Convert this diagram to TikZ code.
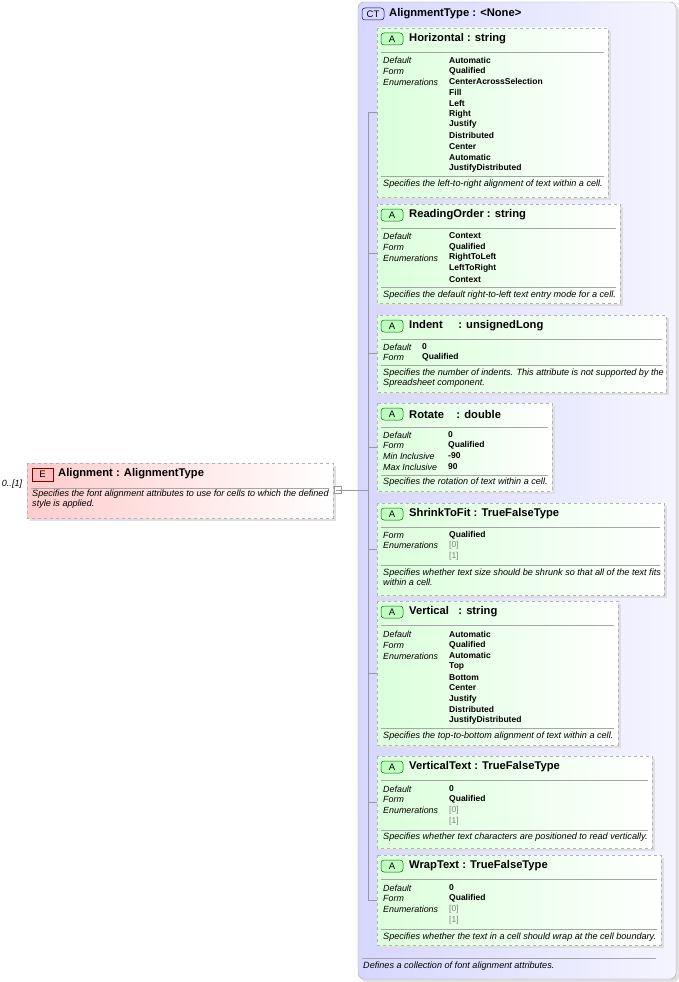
\documentclass[tikz,border=0pt]{standalone}
\usepackage{fontspec}
\setmainfont{Liberation Sans}
\begin{document}
\begin{tikzpicture}[x=1pt,y=-1pt,
  box/.style={draw=gray!60,dashed,line width=0.6pt},
  sep/.style={draw=gray!70,line width=0.5pt},
  lbl/.style={anchor=west,inner sep=0,font=\fontsize{8.9}{10}\selectfont\itshape},
  val/.style={anchor=west,inner sep=0,font=\fontsize{8.5}{10}\selectfont\bfseries},
  gval/.style={anchor=west,inner sep=0,font=\fontsize{8.5}{10}\selectfont,text=gray},
  hdr/.style={anchor=west,inner sep=0,font=\fontsize{11.2}{12}\selectfont\bfseries},
  desc/.style={anchor=north west,inner sep=0,font=\fontsize{9.1}{10}\selectfont\itshape,align=left},
  conn/.style={draw=gray!80,line width=0.5pt}]
\useasboundingbox (0,0) rectangle (679,982);
\newcommand\attrbox[6]{% name x1 y1 x2 y2 header
  \fill[gray!25] (#2+3,#3+3) rectangle (#4+3,#5+3);
  \path[box,left color=green!14,right color=white] (#2,#3) rectangle (#4,#5);
  \coordinate (#1) at (#2,{(#3+#5)/2});
  \path[draw=green!40!black,fill=green!25,rounded corners=3pt,line width=0.5pt] (#2+4,#3+5) rectangle (#2+26,#3+17);
  \node[inner sep=0,font=\fontsize{9.5}{10}\selectfont] at (#2+15,#3+11) {A};
  \node[hdr] at (#2+32,#3+11) {#6};
  \draw[sep] (#2+4,#3+24) -- (#4-4,#3+24);}
% CT box
\fill[gray!25,rounded corners=6pt] (361,5) rectangle (679,982);
\path[draw=gray!70,rounded corners=6pt,left color=blue!16,right color=blue!4] (358,2) rectangle (676,979);
\path[draw=blue!40!black,fill=blue!15,rounded corners=3pt,line width=0.5pt] (362,8) rectangle (384,20);
\node[inner sep=0,font=\fontsize{9.5}{10}\selectfont] at (373,14) {CT};
\node[hdr] (ct) at (389,14) {AlignmentType : <None>};
\draw[sep] (362,958) -- (656,958);
\node[desc] at (363,962) {Defines a collection of font alignment attributes.};
% Element
\fill[gray!25] (30,466) rectangle (336,521);
\path[box,left color=red!20,right color=white] (27,463) rectangle (333,518);
\path[draw=red!50!black,fill=red!25,line width=0.5pt] (32,468) rectangle (53,481);
\node[inner sep=0,font=\fontsize{9.5}{10}\selectfont] at (42.5,474.5) {E};
\node[hdr] at (58,474) {Alignment : AlignmentType};
\draw[sep] (31,488) -- (329,488);
\node[desc] at (32,490) {Specifies the font alignment attributes to use for cells to which the defined\\style is applied.};
\node[inner sep=0,font=\fontsize{9}{10}\selectfont\itshape] at (12,484) {0..[1]};
\node[draw=gray!80,fill=white,minimum size=7pt,inner sep=0,line width=0.5pt] (mn) at (338,490) {};
\draw[gray!80,line width=0.5pt] (335.5,490) -- (340.5,490);
% Horizontal
\attrbox{h}{377}{28}{608}{197}{Horizontal : string}
\node[lbl] at (383,60) {Default}; \node[lbl] at (383,71) {Form}; \node[lbl] at (383,82) {Enumerations};
\foreach \t [count=\i from 0] in {Automatic,Qualified,CenterAcrossSelection,Fill,Left,Right,Justify,Distributed,Center,Automatic,JustifyDistributed}
  \node[val] at (449,60+10.8*\i) {\t};
\draw[sep] (381,176) -- (604,176);
\node[desc] at (383,180) {Specifies the left-to-right alignment of text within a cell.};
% ReadingOrder
\attrbox{r}{377}{204}{620}{303}{ReadingOrder : string}
\node[lbl] at (383,236) {Default}; \node[lbl] at (383,247) {Form}; \node[lbl] at (383,258) {Enumerations};
\foreach \t [count=\i from 0] in {Context,Qualified,RightToLeft,LeftToRight,Context}
  \node[val] at (449,236+10.8*\i) {\t};
\draw[sep] (381,287) -- (616,287);
\node[desc] at (383,291) {Specifies the default right-to-left text entry mode for a cell.};
% Indent
\attrbox{i}{377}{315}{666}{392}{Indent\ \ \ \ \ : unsignedLong}
\node[lbl] at (383,347) {Default}; \node[lbl] at (383,357) {Form};
\node[val] at (422,347) {0}; \node[val] at (422,357) {Qualified};
\draw[sep] (381,365) -- (662,365);
\node[desc] at (383,369) {Specifies the number of indents. This attribute is not supported by the\\Spreadsheet component.};
% Rotate
\attrbox{ro}{377}{403}{552}{491}{Rotate\ \ \ \ : double}
\node[lbl] at (383,435) {Default}; \node[lbl] at (383,445) {Form}; \node[lbl] at (383,456) {Min Inclusive}; \node[lbl] at (383,467) {Max Inclusive};
\node[val] at (448,435) {0}; \node[val] at (448,445) {Qualified}; \node[val] at (448,456) {-90}; \node[val] at (448,467) {90};
\draw[sep] (381,475) -- (548,475);
\node[desc] at (383,478) {Specifies the rotation of text within a cell.};
% ShrinkToFit
\attrbox{s}{377}{503}{664}{595}{ShrinkToFit : TrueFalseType}
\node[lbl] at (383,535) {Form}; \node[lbl] at (383,545) {Enumerations};
\node[val] at (449,535) {Qualified}; \node[gval] at (449,545) {[0]}; \node[gval] at (449,556) {[1]};
\draw[sep] (381,565) -- (660,565);
\node[desc] at (383,569) {Specifies whether text size should be shrunk so that all of the text fits\\within a cell.};
% Vertical
\attrbox{v}{377}{601}{618}{745}{Vertical\ \ \ : string}
\node[lbl] at (383,634) {Default}; \node[lbl] at (383,645) {Form}; \node[lbl] at (383,656) {Enumerations};
\foreach \t [count=\i from 0] in {Automatic,Qualified,Automatic,Top,Bottom,Center,Justify,Distributed,JustifyDistributed}
  \node[val] at (449,634+10.8*\i) {\t};
\draw[sep] (381,728) -- (614,728);
\node[desc] at (383,732) {Specifies the top-to-bottom alignment of text within a cell.};
% VerticalText
\attrbox{vt}{377}{756}{652}{848}{VerticalText : TrueFalseType}
\node[lbl] at (383,789) {Default}; \node[lbl] at (383,799) {Form}; \node[lbl] at (383,810) {Enumerations};
\node[val] at (449,789) {0}; \node[val] at (449,799) {Qualified}; \node[gval] at (449,810) {[0]}; \node[gval] at (449,821) {[1]};
\draw[sep] (381,830) -- (648,830);
\node[desc] at (383,833) {Specifies whether text characters are positioned to read vertically.};
% WrapText
\attrbox{w}{377}{855}{661}{945}{WrapText : TrueFalseType}
\node[lbl] at (383,888) {Default}; \node[lbl] at (383,898) {Form}; \node[lbl] at (383,909) {Enumerations};
\node[val] at (449,888) {0}; \node[val] at (449,898) {Qualified}; \node[gval] at (449,909) {[0]}; \node[gval] at (449,920) {[1]};
\draw[sep] (381,929) -- (657,929);
\node[desc] at (383,933) {Specifies whether the text in a cell should wrap at the cell boundary.};
% connectors
\coordinate (bus) at (368,490);
\draw[conn] (mn.east) -- (bus);
\draw[conn] (h -| bus) -- (w -| bus);
\foreach \n in {h,r,i,ro,s,v,vt,w} \draw[conn] (\n -| bus) -- (\n);
\end{tikzpicture}
\end{document}
